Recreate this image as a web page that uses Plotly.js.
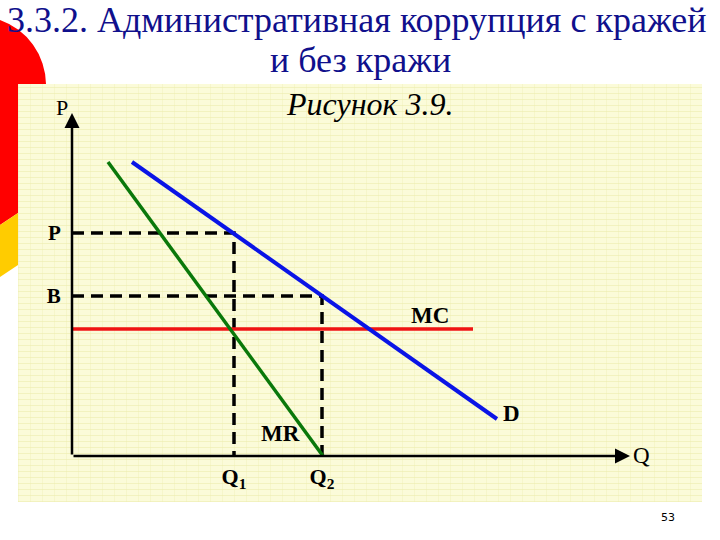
<!DOCTYPE html>
<html>
<head>
<meta charset="utf-8">
<script src="https://cdn.plot.ly/plotly-3.0.1.min.js"></script>
<style>
  html, body { margin:0; padding:0; background:#ffffff; width:720px; height:540px; overflow:hidden; }
  #deco { position:absolute; left:0; top:0; }
  #panel { position:absolute; left:18px; top:84px; width:684px; height:418px;
    background-color:#fbfbd9;
    background-image:
      repeating-linear-gradient(0deg, rgba(235,235,170,0.55) 0px, rgba(235,235,170,0.55) 1px, transparent 1px, transparent 6px),
      repeating-linear-gradient(90deg, rgba(240,240,185,0.45) 0px, rgba(240,240,185,0.45) 1px, transparent 1px, transparent 12px);
  }
  #chart { position:absolute; left:0; top:0; width:720px; height:540px; }
</style>
</head>
<body>
<svg id="deco" width="720" height="540">
  <path d="M0,20 A69,69 0 0,1 46,84 L18,84 L18,213 L0,225 Z" fill="#ff0000"/>
  <path d="M0,225 L18,213 L18,265 L0,277 Z" fill="#ffcc00"/>
</svg>
<div id="panel"></div>
<div id="chart"></div>
<script>
// ---- data (arbitrary diagram units) ----
const demandQ = [60, 425];
const demandP = [294, 37];
const mrQ = [36, 251];
const mrP = [294, 0];
const mcQ = [0, 401];
const mcP = [127, 127];
const priceLevel = 223;   // P
const bribeLevel = 160;   // B
const q1 = 162;
const q2 = 250;
const yTickVals = [priceLevel, bribeLevel];
const yTickText = ['P', 'B'];
const xTickVals = [q1, q2];
const xTickText = ['Q<sub>1</sub>', 'Q<sub>2</sub>'];
const titleLines = ['3.3.2. Административная коррупция с кражей', 'и без кражи'];
const xMax = 558, yMax = 343;

const serif = 'Liberation Serif';
const dashStyle = {color:'#000000', width:3.5, dash:'12px,7px'};

const traces = [
  {x:[0, q1, q1], y:[priceLevel, priceLevel, 0], mode:'lines', line:dashStyle, hoverinfo:'skip'},
  {x:[0, q2, q2], y:[bribeLevel, bribeLevel, 0], mode:'lines', line:dashStyle, hoverinfo:'skip'},
  {x:mcQ, y:mcP, mode:'lines', line:{color:'#f01414', width:3.5}, name:'MC'},
  {x:mrQ, y:mrP, mode:'lines', line:{color:'#0a780a', width:3.5}, name:'MR'},
  {x:demandQ, y:demandP, mode:'lines', line:{color:'#0a14e6', width:4}, name:'D'}
];

const lblFont = {family:serif, size:23, color:'#000000', weight:'bold'};
const titleFont = {family:serif, size:36, color:'#10108c'};
// convert page pixels to paper coordinates of the plot area
const px = v => (v - 72) / 558;
const py = v => (456 - v) / 343;

const layout = {
  width:720, height:540,
  margin:{l:72, r:90, t:113, b:84},
  paper_bgcolor:'rgba(0,0,0,0)', plot_bgcolor:'rgba(0,0,0,0)',
  showlegend:false,
  xaxis:{range:[0, xMax], showgrid:false, zeroline:false, showline:false,
    tickvals:xTickVals, ticktext:xTickText, ticks:'outside', ticklen:1, tickcolor:'rgba(0,0,0,0)',
    tickfont:{family:serif, size:22, color:'#000000', weight:'bold'}, fixedrange:true},
  yaxis:{range:[0, yMax], showgrid:false, zeroline:false, showline:false,
    tickvals:yTickVals, ticktext:yTickText, ticks:'outside', ticklen:6, tickcolor:'rgba(0,0,0,0)',
    tickfont:{family:serif, size:21, color:'#000000', weight:'bold'}, fixedrange:true},
  annotations:[
    {x:px(357), y:py(20), xref:'paper', yref:'paper', text:titleLines[0], showarrow:false,
     xanchor:'center', yanchor:'middle', font:titleFont},
    {x:px(360), y:py(60), xref:'paper', yref:'paper', text:titleLines[1], showarrow:false,
     xanchor:'center', yanchor:'middle', font:titleFont},
    // axes with arrows
    {x:xMax, y:0, ax:0, ay:0, axref:'x', ayref:'y', xref:'x', yref:'y', text:'', showarrow:true,
     arrowhead:2, arrowsize:1.2, arrowwidth:2.5, arrowcolor:'#000000'},
    {x:0, y:yMax, ax:0, ay:0, axref:'x', ayref:'y', xref:'x', yref:'y', text:'', showarrow:true,
     arrowhead:2, arrowsize:1.2, arrowwidth:2.5, arrowcolor:'#000000'},
    {x:px(641), y:py(455), xref:'paper', yref:'paper', text:'Q', showarrow:false, xanchor:'center', yanchor:'middle',
     font:{family:serif, size:23, color:'#000000'}},
    {x:px(62), y:py(108), xref:'paper', yref:'paper', text:'P', showarrow:false, xanchor:'center', yanchor:'middle',
     font:{family:serif, size:22, color:'#000000'}},
    {x:358, y:141, xref:'x', yref:'y', text:'MC', showarrow:false, font:lblFont},
    {x:208, y:23, xref:'x', yref:'y', text:'MR', showarrow:false, font:lblFont},
    {x:439, y:43, xref:'x', yref:'y', text:'D', showarrow:false, font:lblFont},
    {x:px(370), y:py(104), xref:'paper', yref:'paper', text:'Рисунок 3.9.', showarrow:false,
     xanchor:'center', yanchor:'middle', font:{family:serif, size:32, color:'#000000', style:'italic'}},
    {x:px(668), y:py(517), xref:'paper', yref:'paper', text:'53', showarrow:false,
     xanchor:'center', yanchor:'middle', font:{family:'DejaVu Sans', size:11, color:'#000000'}}
  ]
};

Plotly.newPlot('chart', traces, layout, {displayModeBar:false, staticPlot:true});
</script>
</body>
</html>
